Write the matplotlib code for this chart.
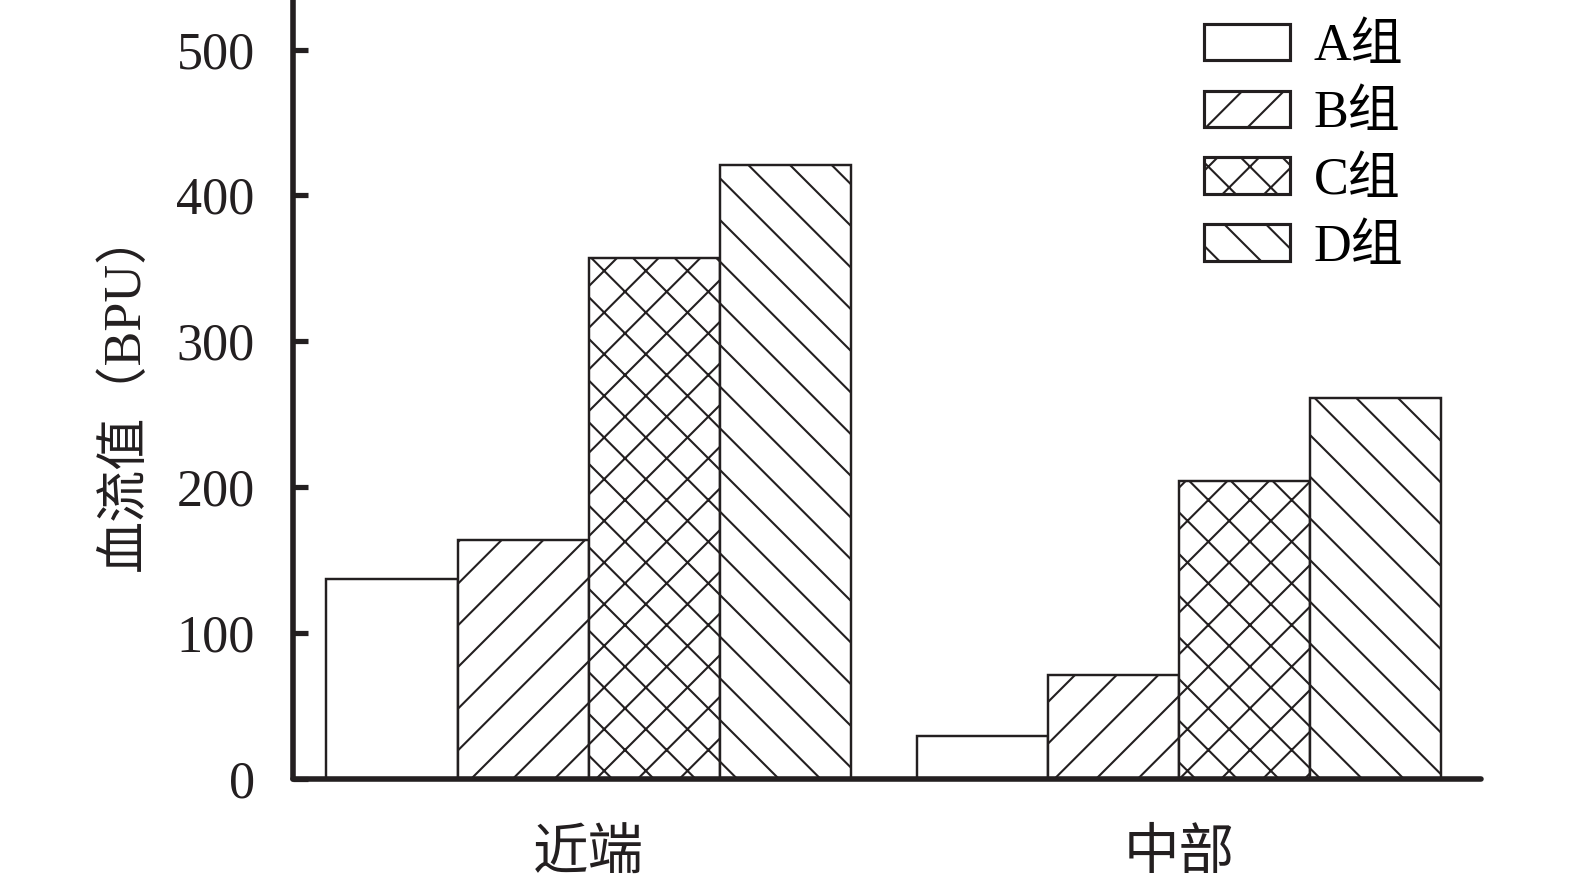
import matplotlib
matplotlib.use("Agg")
import matplotlib.pyplot as plt
import numpy as np

groups = ['近端', '中部']
labels = ['A组', 'B组', 'C组', 'D组']
hatches = ['', '//', 'xx', '\\\\']
a_vals = [137, 29.5]
b_vals = [164, 71]
c_vals = [357, 204]
d_vals = [421, 261]
series = [a_vals, b_vals, c_vals, d_vals]

plt.rcParams['font.family'] = ['Liberation Serif', 'Noto Sans CJK SC']
plt.rcParams['hatch.linewidth'] = 0.6
plt.rcParams['font.size'] = 15

fig = plt.figure(figsize=(6.3, 3.532), dpi=250)
ax = fig.add_axes([0.186, 0.1178, 0.754, 0.8822])

centers = np.array([0, 4.5])
width = 1.0
offsets = [-1.5, -0.5, 0.5, 1.5]
for vals, off, h, lab in zip(series, offsets, hatches, labels):
    ax.bar(centers + off, vals, width, color='white', edgecolor='#231f20',
           linewidth=0.7, hatch=h, label=lab)

ax.set_xlim(-2.255, 6.80)
ax.set_ylim(0, 534)
ax.set_yticks([0, 100, 200, 300, 400, 500])
ax.set_xticks(centers)
ax.set_xticklabels(groups)
ax.tick_params(axis='y', direction='in', length=4.3, width=1.5, pad=11,
               colors='#231f20', labelsize=15)
ax.tick_params(axis='x', length=0, pad=14.5, labelsize=16, colors='#231f20')
for s in ['top', 'right']:
    ax.spines[s].set_visible(False)
for s in ['left', 'bottom']:
    ax.spines[s].set_linewidth(1.6)
    ax.spines[s].set_color('#231f20')
    ax.spines[s].set_capstyle('round')

ax.set_ylabel('血流值（BPU）', fontsize=15, labelpad=7.5, color='#231f20')

leg = ax.legend(loc='upper right', bbox_to_anchor=(0.955, 1.0), frameon=False,
                handlelength=1.65, handleheight=0.7, labelspacing=0.36,
                handletextpad=0.45, fontsize=15, borderaxespad=0.05)
for p in leg.get_patches():
    p.set_linewidth(0.9)

fig.savefig('out.png', dpi=250)
